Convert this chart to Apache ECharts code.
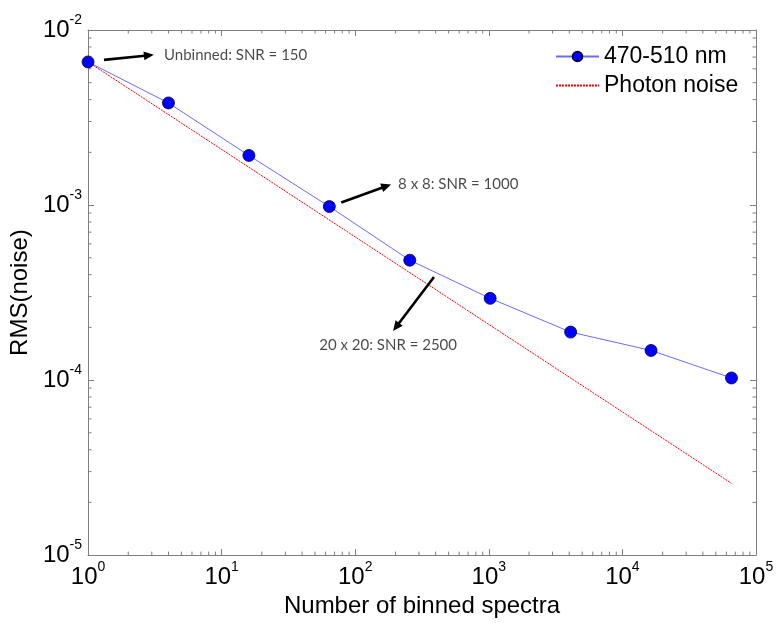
<!DOCTYPE html>
<html><head><meta charset="utf-8">
<script src="https://cdn.jsdelivr.net/npm/echarts@6/dist/echarts.min.js"></script>
<style>html,body{margin:0;padding:0;background:#fff}#c{width:777px;height:623px}</style>
</head><body><div id="c"></div>
<script>
// ---- data ----
const binnedSpectra = [1, 4, 16, 64, 256, 1024, 4096, 16384, 65536];
const rmsNoise = [6.57e-3, 3.83e-3, 1.92e-3, 9.8e-4, 4.84e-4, 2.93e-4, 1.88e-4, 1.476e-4, 1.028e-4];
const photonX = [1, 65536];
const photonY = [6.57e-3, 2.57e-5];
const seriesNames = ['470-510 nm', 'Photon noise'];
const annotationText = ['Unbinned: SNR = 150', '8 x 8: SNR = 1000', '20 x 20: SNR = 2500'];
const annotationAt = [[3.7, 7.21e-3], [209.4, 1.312e-3], [53.85, 1.59e-4]];
const arrowFrom = [[1.316, 6.75e-3], [78.6, 1.035e-3], [388.7, 3.88e-4]];
const arrowTo = [[3.11, 7.21e-3], [185.6, 1.312e-3], [192.1, 1.91e-4]];
const xRange = [1, 100000];
const yRange = [1e-5, 1e-2];
const xTitle = 'Number of binned spectra';
const yTitle = 'RMS(noise)';

// minor tick positions (2..9 in each decade)
const minorX = [];
for (let d = 0; d < 5; d++) for (let m = 2; m <= 9; m++) minorX.push(m * Math.pow(10, d));
const minorY = [];
for (let d = -5; d < -2; d++) for (let m = 2; m <= 9; m++) minorY.push(m * Math.pow(10, d));

const tickData = [];
minorX.forEach(v => tickData.push([v, 1e-3, 0]));
minorY.forEach(v => tickData.push([10, v, 1]));

const AX = '#7f7f7f';
const FONT = 'Liberation Sans';

function powLabel(v) {
  const e = Math.round(Math.log10(v));
  return '{b|10}{s|' + e + '}';
}
const richLbl = {
  b: { fontSize: 24, lineHeight: 34, fontFamily: FONT, color: '#000' },
  s: { fontSize: 14, lineHeight: 16, verticalAlign: 'top', fontFamily: FONT, color: '#000' }
};

const chart = echarts.init(document.getElementById('c'), null, { renderer: 'canvas' });
chart.setOption({
  animation: false,
  backgroundColor: '#fff',
  grid: { left: 86, right: 21, top: 30, bottom: 66 },
  legend: {
    data: [
      { name: seriesNames[0] },
      { name: seriesNames[1], itemStyle: { opacity: 0 } }
    ],
    orient: 'vertical',
    left: 550,
    top: 40,
    itemWidth: 43,
    itemHeight: 12,
    itemGap: 6,
    textStyle: { fontSize: 23, fontFamily: FONT, color: '#000' }
  },
  xAxis: [{
    type: 'log', logBase: 10, min: xRange[0], max: xRange[1], splitNumber: 5,
    name: xTitle, nameLocation: 'middle', nameGap: 38,
    nameTextStyle: { fontSize: 24, fontFamily: FONT, color: '#000' },
    axisLine: { lineStyle: { color: AX, width: 1 } },
    axisTick: { inside: true, length: 6, lineStyle: { color: AX } },
    axisLabel: { formatter: powLabel, rich: richLbl, margin: 5 },
    splitLine: { show: false }, minorTick: { show: false }
  }, {
    type: 'log', logBase: 10, min: xRange[0], max: xRange[1], splitNumber: 5, position: 'top',
    axisLine: { lineStyle: { color: AX, width: 1 } },
    axisTick: { inside: true, length: 6, lineStyle: { color: AX } },
    axisLabel: { show: false }, splitLine: { show: false }
  }],
  yAxis: [{
    type: 'log', logBase: 10, min: yRange[0], max: yRange[1], splitNumber: 3,
    name: yTitle, nameLocation: 'middle', nameGap: 46,
    nameTextStyle: { fontSize: 24, fontFamily: FONT, color: '#000' },
    axisLine: { lineStyle: { color: AX, width: 1 } },
    axisTick: { inside: true, length: 6, lineStyle: { color: AX } },
    axisLabel: { formatter: powLabel, rich: richLbl, margin: 6 },
    splitLine: { show: false }
  }, {
    type: 'log', logBase: 10, min: yRange[0], max: yRange[1], splitNumber: 3, position: 'right',
    axisLine: { lineStyle: { color: AX, width: 1 } },
    axisTick: { inside: true, length: 6, lineStyle: { color: AX } },
    axisLabel: { show: false }, splitLine: { show: false }
  }],
  series: [{
    name: seriesNames[0], type: 'line',
    data: binnedSpectra.map((x, i) => [x, rmsNoise[i]]),
    symbol: 'circle', symbolSize: 12,
    lineStyle: { color: '#6b6bff', width: 1 },
    itemStyle: { color: '#0000ff', borderColor: '#000040', borderWidth: 0.8 },
    z: 4
  }, {
    name: seriesNames[1], type: 'line',
    data: photonX.map((x, i) => [x, photonY[i]]),
    symbol: 'none',
    lineStyle: { color: '#ff0000', width: 1, type: [2, 1] },
    itemStyle: { color: '#ff0000' },
    z: 3
  }, {
    name: 'arrows', type: 'custom',
    dimensions: ['x1', 'y1', 'x2', 'y2'],
    encode: { x: [0, 2], y: [1, 3] },
    data: arrowFrom.map((p, i) => [p[0], p[1], arrowTo[i][0], arrowTo[i][1]]),
    silent: true, clip: false, z: 5,
    renderItem: function (params, api) {
      const a = api.coord([api.value(0), api.value(1)]);
      const b = api.coord([api.value(2), api.value(3)]);
      const dx = b[0] - a[0], dy = b[1] - a[1];
      const L = Math.sqrt(dx * dx + dy * dy);
      const ux = dx / L, uy = dy / L;
      const hl = 10, hw = 4.5;
      const bx = b[0] - ux * hl, by = b[1] - uy * hl;
      return { type: 'group', children: [
        { type: 'line', shape: { x1: a[0], y1: a[1], x2: bx + ux * 1, y2: by + uy * 1 },
          style: { stroke: '#000', lineWidth: 2.6 } },
        { type: 'polygon', shape: { points: [[b[0], b[1]], [bx - uy * hw, by + ux * hw], [bx + uy * hw, by - ux * hw]] },
          style: { fill: '#000' } }
      ] };
    }
  }, {
    name: 'annotations', type: 'scatter',
    data: annotationAt.map((p, i) => ({ value: p, name: annotationText[i] })),
    symbolSize: 0,
    label: { show: true, position: 'right', distance: 0, formatter: '{b}',
      fontSize: 15, fontFamily: 'Lato', color: '#1a1a1a' },
    z: 5
  }, {
    name: 'minorTicks', type: 'custom',
    dimensions: ['x', 'y', 'k'],
    encode: { x: 0, y: 1 },
    data: tickData, silent: true, clip: false,
    renderItem: function (params, api) {
      const k = api.value(2);
      const len = 3.5;
      const st = { stroke: AX, lineWidth: 1 };
      if (k === 0) {
        const b = api.coord([api.value(0), yRange[0]]);
        const t = api.coord([api.value(0), yRange[1]]);
        return { type: 'group', children: [
          { type: 'line', shape: { x1: b[0], y1: b[1], x2: b[0], y2: b[1] - len }, style: st },
          { type: 'line', shape: { x1: t[0], y1: t[1], x2: t[0], y2: t[1] + len }, style: st }
        ] };
      }
      const l = api.coord([xRange[0], api.value(1)]);
      const r = api.coord([xRange[1], api.value(1)]);
      return { type: 'group', children: [
        { type: 'line', shape: { x1: l[0], y1: l[1], x2: l[0] + len, y2: l[1] }, style: st },
        { type: 'line', shape: { x1: r[0], y1: r[1], x2: r[0] - len, y2: r[1] }, style: st }
      ] };
    }
  }]
});
</script>
</body></html>
